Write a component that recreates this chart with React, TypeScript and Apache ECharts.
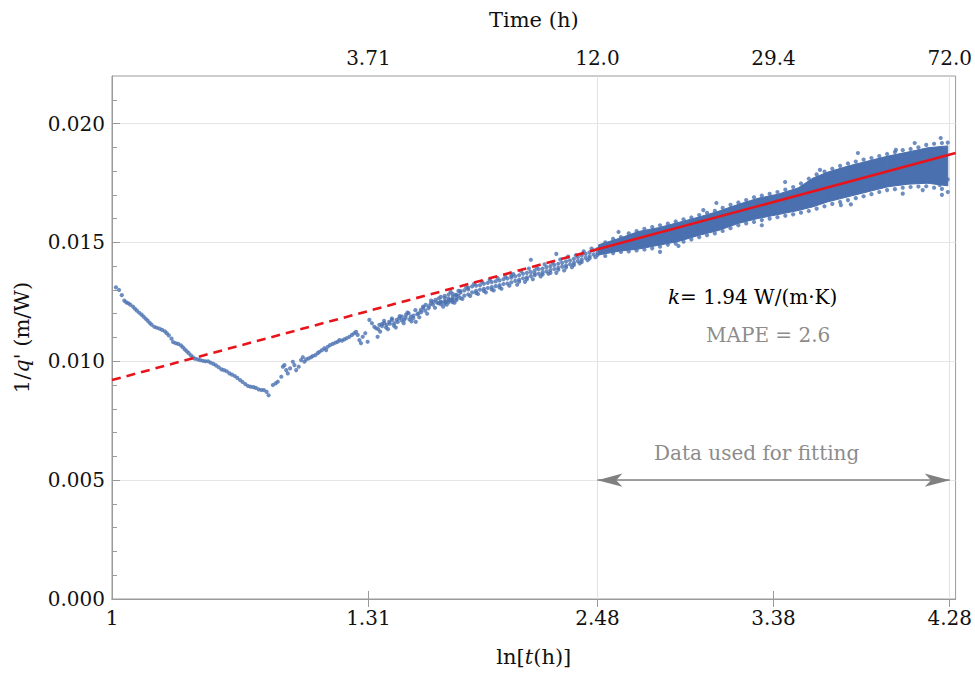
import React, { useEffect, useRef } from "react";
import * as echarts from "echarts";

const BLUE = "#4a70b0";
const RED = "#e8141c";
const GRAY_TXT = "#8c8c8c";
const AXIS = "#9a9a9a";
const SERIF = "'DejaVu Serif', 'Liberation Serif', serif";

// Bottom axis: ln[t(h)] tick positions and labels
const bottomTickValues = [0, 1.31, 2.48, 3.38, 4.28];
const bottomTickLabels = ["1", "1.31", "2.48", "3.38", "4.28"];
// Top axis: Time (h)
const topTickValues = [1.31, 2.48, 3.38, 4.28];
const topTickLabels = ["3.71", "12.0", "29.4", "72.0"];
// Left axis
const yMajorTicks = [0, 0.005, 0.01, 0.015, 0.02];
const yMinorTicks = [0.001, 0.002, 0.003, 0.004, 0.006, 0.007, 0.008, 0.009, 0.011, 0.012, 0.013, 0.014, 0.016, 0.017, 0.018, 0.019, 0.021];

// Early descending part of the measurements [ln t, 1/q']
const descPoints = [
  [0.020, 0.01311], [0.036, 0.01300], [0.050, 0.01278], [0.063, 0.01255], [0.073, 0.01248], [0.083, 0.01244], [0.093, 0.01238],
  [0.107, 0.01230], [0.117, 0.01221], [0.127, 0.01213], [0.139, 0.01204], [0.151, 0.01196], [0.161, 0.01188],
  [0.172, 0.01179], [0.182, 0.01171], [0.192, 0.01162], [0.202, 0.01154], [0.216, 0.01145], [0.229, 0.01141],
  [0.243, 0.01137], [0.256, 0.01132], [0.270, 0.01126], [0.280, 0.01118], [0.290, 0.01109], [0.304, 0.01095],
  [0.312, 0.01081], [0.325, 0.01076], [0.338, 0.01073], [0.352, 0.01067], [0.362, 0.01059], [0.372, 0.01050],
  [0.382, 0.01042], [0.392, 0.01034], [0.403, 0.01025], [0.413, 0.01017], [0.423, 0.01011], [0.437, 0.01008],
  [0.450, 0.01005], [0.464, 0.01002], [0.477, 0.01000], [0.491, 0.01000], [0.504, 0.00994], [0.518, 0.00989],
  [0.531, 0.00983], [0.545, 0.00975], [0.559, 0.00966], [0.572, 0.00963], [0.586, 0.00958], [0.600, 0.00949],
  [0.613, 0.00944], [0.627, 0.00938], [0.640, 0.00930], [0.654, 0.00921], [0.667, 0.00913], [0.681, 0.00904],
  [0.695, 0.00896], [0.708, 0.00893], [0.722, 0.00891], [0.735, 0.00888], [0.749, 0.00882], [0.763, 0.00879],
  [0.776, 0.00879], [0.790, 0.00871], [0.800, 0.00857],
];

// Rising, still sparse part
const risePoints = [
  [0.822, 0.00900], [0.836, 0.00907], [0.847, 0.00914], [0.865, 0.00935], [0.873, 0.00977], [0.881, 0.00984],
  [0.890, 0.00963], [0.898, 0.00949], [0.910, 0.00970], [0.924, 0.00998], [0.932, 0.00984], [0.941, 0.00963],
  [0.954, 0.00977], [0.966, 0.01005], [0.975, 0.01017], [0.983, 0.00998], [0.992, 0.01008], [1.005, 0.01012],
  [1.017, 0.01017], [1.026, 0.01022], [1.039, 0.01026], [1.051, 0.01034], [1.060, 0.01040], [1.073, 0.01047],
  [1.085, 0.01055], [1.094, 0.01047], [1.102, 0.01061], [1.114, 0.01068], [1.128, 0.01073], [1.141, 0.01078],
  [1.153, 0.01082], [1.162, 0.01089], [1.175, 0.01087], [1.187, 0.01092], [1.199, 0.01097], [1.213, 0.01103],
  [1.226, 0.01111], [1.238, 0.01118], [1.247, 0.01124], [1.255, 0.01111], [1.264, 0.01089], [1.272, 0.01076],
  [1.281, 0.01103], [1.294, 0.01118], [1.306, 0.01082], [1.315, 0.01174], [1.328, 0.01160], [1.340, 0.01145],
  [1.349, 0.01139], [1.357, 0.01103], [1.366, 0.01153], [1.379, 0.01157], [1.391, 0.01160], [1.403, 0.01153],
  [1.416, 0.01166], [1.430, 0.01174], [1.442, 0.01160], [1.454, 0.01174], [1.467, 0.01181], [1.481, 0.01188],
  [1.493, 0.01174], [1.502, 0.01195], [1.515, 0.01202], [1.527, 0.01188], [1.539, 0.01181], [1.552, 0.01166],
  [1.566, 0.01202], [1.578, 0.01216], [1.590, 0.01230], [1.603, 0.01237], [1.617, 0.01223], [1.629, 0.01244],
  [1.641, 0.01251], [1.654, 0.01258], [1.668, 0.01244], [1.680, 0.01251], [1.692, 0.01230], [1.705, 0.01251],
  [1.719, 0.01265], [1.731, 0.01258], [1.742, 0.01272], [1.756, 0.01279], [1.770, 0.01275],
  [1.36, 0.01135], [1.38, 0.01148], [1.40, 0.01142], [1.42, 0.01158], [1.44, 0.01150], [1.46, 0.01165],
  [1.48, 0.01172], [1.50, 0.01183], [1.52, 0.01176], [1.54, 0.01192], [1.56, 0.01198], [1.58, 0.01207],
  [1.60, 0.01213], [1.62, 0.01232], [1.64, 0.01238], [1.66, 0.01247], [1.68, 0.01240], [1.70, 0.01244],
  [1.72, 0.01248], [1.74, 0.01256], [1.76, 0.01263],
  [1.37, 0.01125], [1.39, 0.01170], [1.41, 0.01135], [1.43, 0.01180], [1.45, 0.01142], [1.47, 0.01190],
  [1.49, 0.01160], [1.51, 0.01205], [1.53, 0.01168], [1.55, 0.01215], [1.57, 0.01185], [1.59, 0.01225],
  [1.61, 0.01200], [1.63, 0.01255], [1.65, 0.01225], [1.67, 0.01265],
];

// Denser band before the fitting window
const midPoints = [
  [1.68, 0.01248], [1.68, 0.01271], [1.70, 0.01275], [1.70, 0.01252], [1.70, 0.01266], [1.72, 0.01256], [1.72, 0.01281],
  [1.74, 0.01262], [1.74, 0.01249], [1.74, 0.01284], [1.76, 0.01279], [1.76, 0.01258], [1.78, 0.01289], [1.78, 0.01266],
  [1.78, 0.01295], [1.80, 0.01276], [1.80, 0.01298], [1.82, 0.01302], [1.82, 0.01281], [1.82, 0.01310], [1.84, 0.01290],
  [1.84, 0.01315], [1.86, 0.01296], [1.86, 0.01318], [1.86, 0.01287], [1.88, 0.01320], [1.88, 0.01301], [1.90, 0.01305],
  [1.90, 0.01326], [1.90, 0.01296], [1.92, 0.01308], [1.92, 0.01330], [1.94, 0.01312], [1.94, 0.01333], [1.94, 0.01302],
  [1.96, 0.01336], [1.96, 0.01316], [1.98, 0.01320], [1.98, 0.01340], [1.98, 0.01311], [2.00, 0.01325], [2.00, 0.01345],
  [2.02, 0.01327], [2.02, 0.01348], [2.04, 0.01352], [2.04, 0.01332], [2.04, 0.01360], [2.06, 0.01338], [2.06, 0.01357],
  [2.08, 0.01343], [2.08, 0.01362], [2.08, 0.01335], [2.10, 0.01349], [2.10, 0.01368], [2.12, 0.01353], [2.12, 0.01372],
  [2.12, 0.01345], [2.14, 0.01375], [2.14, 0.01358], [2.14, 0.01427], [2.16, 0.01362], [2.16, 0.01382], [2.16, 0.01369],
  [2.18, 0.01368], [2.18, 0.01387], [2.20, 0.01374], [2.20, 0.01390], [2.20, 0.01365], [2.22, 0.01378], [2.22, 0.01396],
  [2.24, 0.01384], [2.24, 0.01400], [2.24, 0.01372], [2.26, 0.01388], [2.26, 0.01405], [2.27, 0.01452], [2.28, 0.01393],
  [2.28, 0.01410], [2.28, 0.01385], [2.30, 0.01398], [2.30, 0.01414], [2.32, 0.01403], [2.32, 0.01420], [2.32, 0.01395],
  [2.34, 0.01408], [2.34, 0.01424], [2.36, 0.01414], [2.36, 0.01431], [2.36, 0.01405], [2.38, 0.01421], [2.38, 0.01438],
  [2.40, 0.01428], [2.40, 0.01445], [2.40, 0.01418], [2.42, 0.01435], [2.42, 0.01452], [2.44, 0.01442], [2.44, 0.01458],
  [2.44, 0.01433], [2.46, 0.01449], [2.46, 0.01466], [2.48, 0.01456], [2.48, 0.01472], [2.48, 0.01447],
  [1.71, 0.01238], [1.73, 0.01292], [1.75, 0.01246], [1.77, 0.01296], [1.79, 0.01262], [1.81, 0.01311], [1.83, 0.01275],
  [1.85, 0.01326], [1.87, 0.01283], [1.89, 0.01334], [1.91, 0.01290], [1.93, 0.01343], [1.95, 0.01298], [1.97, 0.01350],
  [1.99, 0.01305], [2.01, 0.01356], [2.03, 0.01318], [2.05, 0.01367], [2.07, 0.01322], [2.09, 0.01379], [2.11, 0.01334],
  [2.13, 0.01390], [2.15, 0.01345], [2.17, 0.01395], [2.19, 0.01357], [2.21, 0.01408], [2.23, 0.01368], [2.25, 0.01415],
  [2.27, 0.01372], [2.29, 0.01428], [2.31, 0.01382], [2.33, 0.01440], [2.35, 0.01396], [2.37, 0.01446], [2.39, 0.01412],
  [2.41, 0.01462], [2.43, 0.01425], [2.45, 0.01474], [2.47, 0.01438],
];

// Scattered points around the dense band of the fitting window
const fringePoints = [
  [2.52, 0.01500], [2.52, 0.01443], [2.52, 0.01470], [2.56, 0.01515], [2.56, 0.01455], [2.588, 0.01544],
  [2.60, 0.01522], [2.60, 0.01460], [2.60, 0.01495], [2.64, 0.01538], [2.64, 0.01462], [2.64, 0.01508],
  [2.68, 0.01548], [2.68, 0.01466], [2.68, 0.01520], [2.72, 0.01557], [2.72, 0.01470], [2.72, 0.01512],
  [2.76, 0.01565], [2.76, 0.01475], [2.76, 0.01530], [2.80, 0.01572], [2.80, 0.01482], [2.80, 0.01460],
  [2.84, 0.01579], [2.84, 0.01490], [2.84, 0.01540], [2.88, 0.01588], [2.88, 0.01495], [2.88, 0.01552],
  [2.894, 0.01485], [2.92, 0.01597], [2.92, 0.01503], [2.92, 0.01530], [2.96, 0.01605], [2.96, 0.01512],
  [2.96, 0.01565], [3.00, 0.01615], [3.00, 0.01522], [3.021, 0.01636], [3.04, 0.01624], [3.04, 0.01530],
  [3.04, 0.01575], [3.08, 0.01633], [3.08, 0.01538], [3.088, 0.01666], [3.12, 0.01645], [3.12, 0.01548],
  [3.12, 0.01600], [3.16, 0.01658], [3.16, 0.01560], [3.16, 0.01612], [3.20, 0.01668], [3.20, 0.01572],
  [3.20, 0.01625], [3.24, 0.01678], [3.24, 0.01580], [3.24, 0.01635], [3.28, 0.01690], [3.28, 0.01586],
  [3.28, 0.01648], [3.32, 0.01697], [3.32, 0.01594], [3.32, 0.01572], [3.36, 0.01704], [3.36, 0.01600],
  [3.36, 0.01655], [3.40, 0.01712], [3.40, 0.01606], [3.40, 0.01665], [3.439, 0.01754], [3.44, 0.01722],
  [3.44, 0.01612], [3.44, 0.01675], [3.48, 0.01733], [3.48, 0.01618], [3.48, 0.01685], [3.52, 0.01748],
  [3.52, 0.01625], [3.56, 0.01768], [3.56, 0.01632], [3.56, 0.01700], [3.60, 0.01786], [3.60, 0.01642],
  [3.60, 0.01715], [3.617, 0.01805], [3.64, 0.01798], [3.64, 0.01652], [3.64, 0.01730], [3.68, 0.01810],
  [3.68, 0.01662], [3.68, 0.01740], [3.72, 0.01822], [3.72, 0.01670], [3.724, 0.01657], [3.72, 0.01752],
  [3.76, 0.01832], [3.76, 0.01678], [3.775, 0.01660], [3.80, 0.01840], [3.80, 0.01686], [3.80, 0.01765],
  [3.811, 0.01876], [3.84, 0.01848], [3.84, 0.01694], [3.84, 0.01775], [3.88, 0.01855], [3.88, 0.01703],
  [3.88, 0.01785], [3.92, 0.01863], [3.92, 0.01712], [3.92, 0.01795], [3.96, 0.01872], [3.96, 0.01720],
  [3.96, 0.01805], [4.00, 0.01880], [4.00, 0.01724], [4.005, 0.01889], [4.00, 0.01812], [4.04, 0.01888],
  [4.04, 0.01730], [4.04, 0.01705], [4.08, 0.01893], [4.08, 0.01733], [4.08, 0.01820], [4.101, 0.01918],
  [4.12, 0.01900], [4.12, 0.01735], [4.12, 0.01825], [4.142, 0.01720], [4.16, 0.01910], [4.16, 0.01736],
  [4.16, 0.01830], [4.20, 0.01915], [4.20, 0.01730], [4.20, 0.01835], [4.229, 0.01742], [4.234, 0.01939],
  [4.24, 0.01918], [4.24, 0.01725], [4.24, 0.01700], [4.27, 0.01920], [4.27, 0.01712], [4.27, 0.01765],
];

// Dense core of the measurement band (lower / upper edge)
const bandX = [2.486, 2.588, 2.690, 2.792, 2.894, 2.996, 3.098, 3.200, 3.302, 3.403, 3.505, 3.582, 3.658, 3.760, 3.862, 3.964, 4.066, 4.168, 4.270];
const bandLow = [0.01447, 0.01463, 0.01472, 0.01488, 0.01504, 0.01529, 0.01550, 0.01580, 0.01601, 0.01617, 0.01634, 0.01650, 0.01671, 0.01692, 0.01713, 0.01734, 0.01745, 0.01749, 0.01738];
const bandHigh = [0.01490, 0.01516, 0.01546, 0.01562, 0.01584, 0.01606, 0.01631, 0.01660, 0.01686, 0.01703, 0.01729, 0.01771, 0.01796, 0.01821, 0.01842, 0.01863, 0.01880, 0.01898, 0.01906];

// Linear fit (dashed: extrapolation, solid: fitting window)
const fitX = [0, 2.48, 4.31];
const fitY = [0.00921, 0.01471, 0.01876];

// Fitting window arrow
const windowStart = 2.48;
const windowEnd = 4.28;
const arrowLevel = 0.005;

const fmtFrom = (vals: number[], labels: string[]) => (v: number) => {
  const i = vals.findIndex((t) => Math.abs(t - v) < 1e-6);
  return i >= 0 ? labels[i] : "";
};

export default function App() {
  const ref = useRef<HTMLDivElement>(null);
  useEffect(() => {
    if (!ref.current) return;
    const chart = echarts.init(ref.current, undefined, { renderer: "svg" });
    const scatterData = [...descPoints, ...risePoints, ...midPoints, ...fringePoints];
    const labelStyle = { color: "#111", fontFamily: SERIF, fontSize: 20 };
    const titleStyle = { color: "#111", fontFamily: SERIF, fontSize: 21 };
    chart.setOption({
      animation: false,
      backgroundColor: "#fff",
      grid: { left: 112, right: 17, top: 76, bottom: 75, show: true, borderColor: AXIS, borderWidth: 1, backgroundColor: "transparent" },
      xAxis: [
        {
          type: "value", position: "bottom", min: 0, max: 4.31,
          name: "{a|ln[}{i|t}{a|(h)]}", nameLocation: "middle", nameGap: 47,
          nameTextStyle: { rich: { a: { ...titleStyle }, i: { ...titleStyle, fontStyle: "italic" } } },
          axisLine: { show: true, lineStyle: { color: AXIS } },
          axisTick: { show: true, inside: true, length: 8, customValues: bottomTickValues, lineStyle: { color: AXIS } },
          axisLabel: { ...labelStyle, margin: 9, customValues: bottomTickValues, formatter: fmtFrom(bottomTickValues, bottomTickLabels), showMinLabel: true, showMaxLabel: true },
          splitLine: { show: false },
        },
        {
          type: "value", position: "top", min: 0, max: 4.31,
          name: "Time (h)", nameLocation: "middle", nameGap: 46,
          nameTextStyle: { ...titleStyle },
          axisLine: { show: true, lineStyle: { color: AXIS } },
          axisTick: { show: true, inside: true, length: 8, customValues: topTickValues, lineStyle: { color: AXIS } },
          axisLabel: { ...labelStyle, margin: 8, customValues: topTickValues, formatter: fmtFrom(topTickValues, topTickLabels) },
          splitLine: { show: false },
        },
      ],
      yAxis: [
        {
          type: "value", position: "left", min: 0, max: 0.022,
          name: "{a|1/}{i|q}{a|' (m/W)}", nameLocation: "middle", nameGap: 80,
          nameTextStyle: { rich: { a: { ...titleStyle }, i: { ...titleStyle, fontStyle: "italic" } } },
          axisLine: { show: true, lineStyle: { color: AXIS } },
          axisTick: { show: true, inside: true, length: 8, customValues: yMajorTicks, lineStyle: { color: AXIS } },
          axisLabel: { ...labelStyle, margin: 7, customValues: yMajorTicks, formatter: (v: number) => v.toFixed(3) },
          splitLine: { show: true, lineStyle: { color: "#e6e6e6", width: 1 } },
        },
        {
          type: "value", position: "left", min: 0, max: 0.022,
          axisLine: { show: false },
          axisTick: { show: true, inside: true, length: 5, customValues: yMinorTicks, lineStyle: { color: AXIS } },
          axisLabel: { show: false },
          splitLine: { show: false },
        },
      ],
      series: [
        {
          type: "custom", xAxisIndex: 0, yAxisIndex: 0, z: 2, silent: true,
          data: bandX.map((x, i) => [x, bandLow[i], bandHigh[i]]),
          encode: { x: 0, y: [1, 2] },
          renderItem: (params: any, api: any) => {
            const i = params.dataIndex;
            if (i >= bandX.length - 1) return null;
            const a = api.coord([bandX[i], bandLow[i]]);
            const b = api.coord([bandX[i + 1], bandLow[i + 1]]);
            const c = api.coord([bandX[i + 1], bandHigh[i + 1]]);
            const d = api.coord([bandX[i], bandHigh[i]]);
            return { type: "polygon", shape: { points: [a, b, c, d] }, style: { fill: BLUE, stroke: BLUE, lineWidth: 1 } };
          },
          markLine: {
            silent: true, symbol: "none", label: { show: false }, z: 1,
            lineStyle: { color: "#e2e2e2", width: 1, type: "solid" },
            data: [{ xAxis: windowStart }, { xAxis: windowEnd }],
          },
        },
        {
          type: "scatter", xAxisIndex: 0, yAxisIndex: 0, z: 3, silent: true,
          symbol: "circle", symbolSize: 4.2,
          itemStyle: { color: BLUE },
          data: scatterData,
        },
        {
          type: "line", xAxisIndex: 0, yAxisIndex: 0, z: 5, silent: true, symbol: "none",
          lineStyle: { color: RED, width: 2.6, type: [9, 6] },
          data: [[fitX[0], fitY[0]], [fitX[1], fitY[1]]],
        },
        {
          type: "line", xAxisIndex: 0, yAxisIndex: 0, z: 5, silent: true, symbol: "none",
          lineStyle: { color: RED, width: 2.6 },
          data: [[fitX[1], fitY[1]], [fitX[2], fitY[2]]],
          markLine: {
            silent: true, symbol: ["arrow", "arrow"], symbolSize: [10, 25], label: { show: false },
            lineStyle: { color: "#808080", width: 1.5, type: "solid" },
            itemStyle: { color: "#808080" },
            data: [[{ coord: [windowStart, arrowLevel] }, { coord: [windowEnd, arrowLevel] }]],
          },
        },
      ],
      graphic: [
        {
          type: "text", left: 668, top: 287, silent: true,
          style: {
            text: "{i|k}{a|= 1.94 W/(m·K)}",
            rich: { i: { ...labelStyle, fontStyle: "italic" }, a: { ...labelStyle } },
          },
        },
        {
          type: "text", left: 706, top: 325, silent: true,
          style: { text: "MAPE = 2.6", fill: GRAY_TXT, font: `20px ${SERIF}` },
        },
        {
          type: "text", left: 654, top: 443, silent: true,
          style: { text: "Data used for fitting", fill: GRAY_TXT, font: `20px ${SERIF}` },
        },
      ],
    });
    return () => chart.dispose();
  }, []);
  return <div ref={ref} style={{ position: "fixed", left: 0, top: 0, width: 975, height: 674 }} />;
}
